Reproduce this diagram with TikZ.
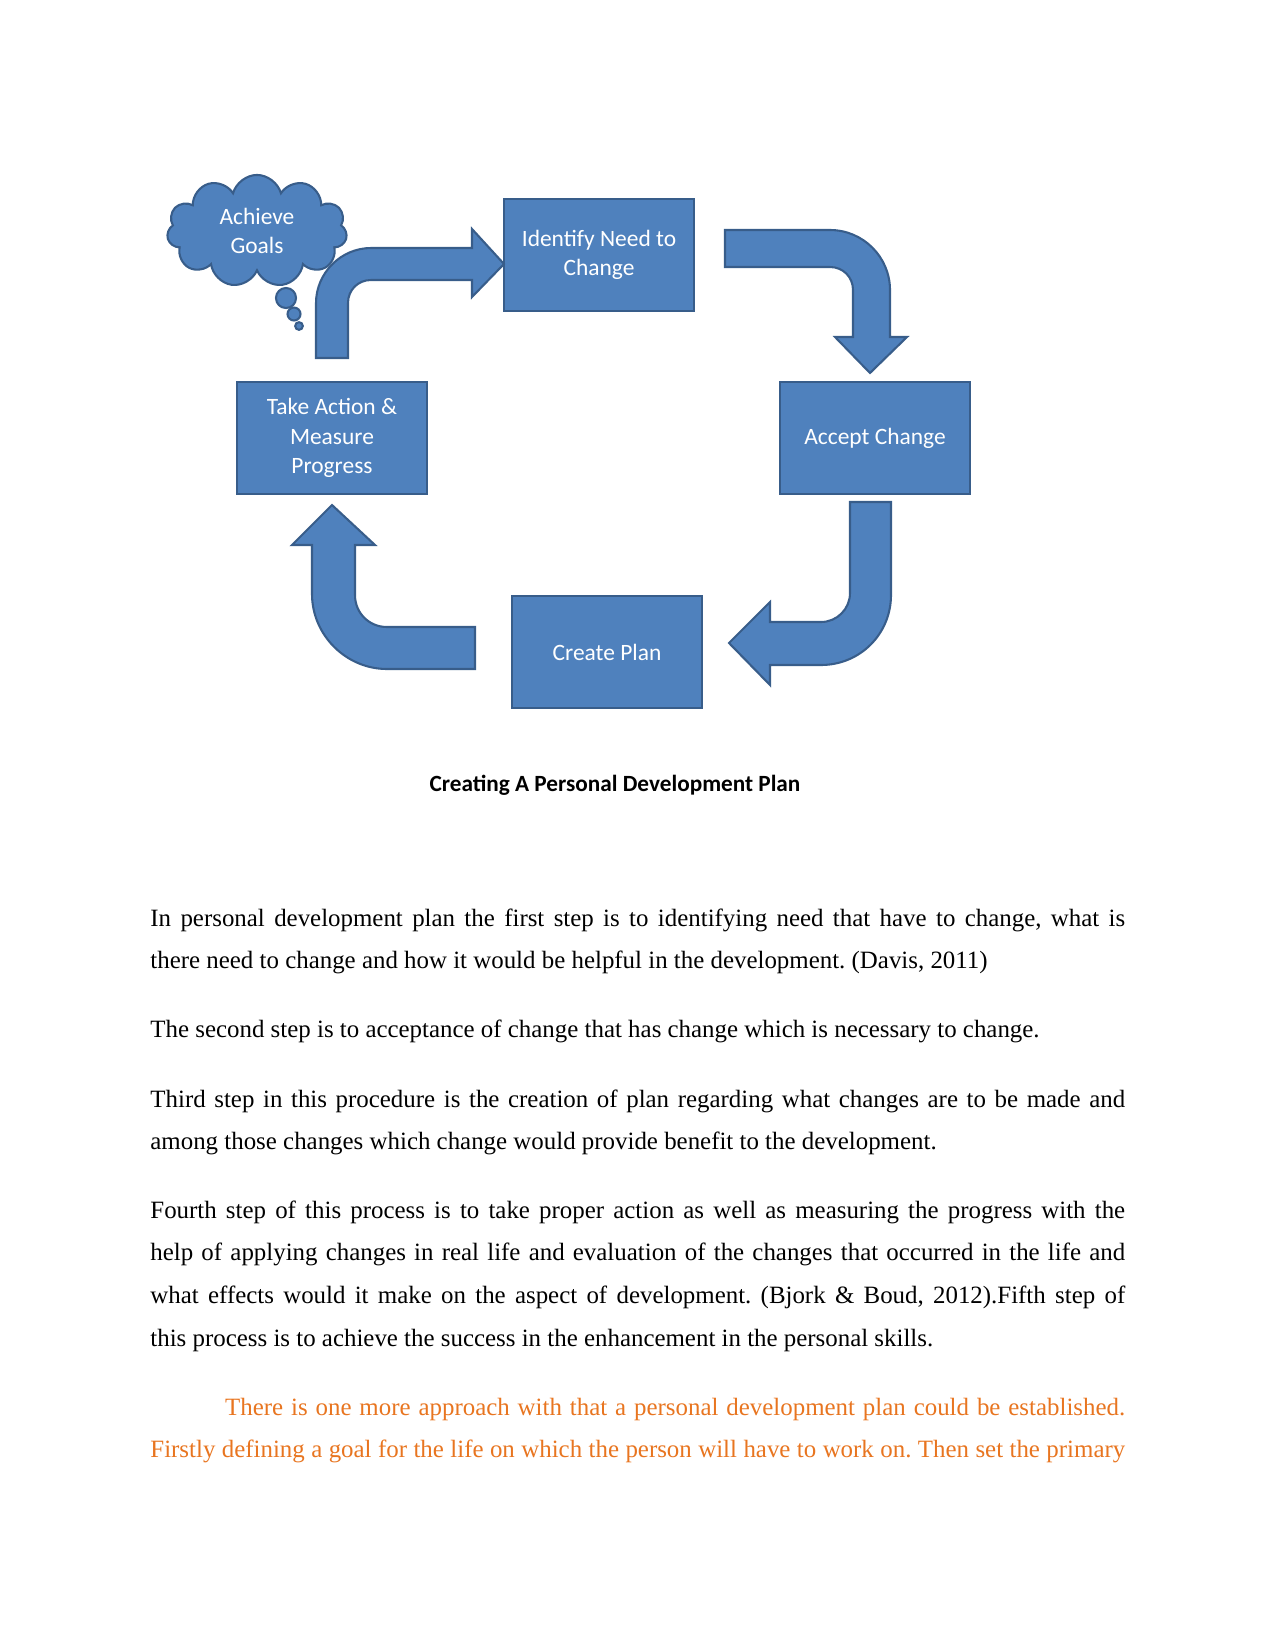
\documentclass[tikz,border=0pt]{standalone}
\usepackage{fontspec}
\setmainfont{Liberation Serif}
\newfontfamily\boxfont{Carlito}
\usepackage{xcolor}
\usepackage{tikz}
\usetikzlibrary{positioning,shapes.symbols}
\definecolor{stepblue}{RGB}{79,129,189}
\definecolor{stepedge}{RGB}{56,93,138}
\definecolor{noteorange}{RGB}{232,117,32}
\frenchspacing
\tikzset{
  stepbox/.style={draw=stepedge, line width=1pt, fill=stepblue, text=white,
    minimum width=3.22cm, minimum height=1.9cm, align=center,
    font=\boxfont\fontsize{11.3}{14.2}\selectfont},
  bentarrow/.style={draw=stepedge, line width=1pt, fill=stepblue},
  bubble/.style={circle, draw=stepedge, line width=1pt, fill=stepblue, inner sep=0pt},
  para/.style={anchor=base west, inner sep=0pt, text width=16.51cm, align=justify,
    font=\fontsize{12}{20.64}\selectfont}
}

\begin{document}
\begin{tikzpicture}[x=0.016933cm, y=-0.016933cm]
  \useasboundingbox (0,0) rectangle (1275,1650);

  \node[stepbox] (identify) at (599,255) {Identify Need to\\Change};
  \node[stepbox] (accept) at (875,438) {Accept Change};
  \node[stepbox] (plan) at (607,652) {Create Plan};
  \node[stepbox] (action) at (332,438) {Take Action \&\\Measure\\Progress};

  \node[cloud, cloud puffs=11, aspect=1.7, draw=stepedge, line width=1pt,
        fill=stepblue, text=white, minimum width=3.05cm, minimum height=1.85cm,
        align=center, font=\boxfont\fontsize{11.3}{14.2}\selectfont] (goals) at (257,231) {Achieve\\Goals};
  \node[bubble, minimum size=0.34cm] (bubbleA) at (286,298) {};
  \node[bubble, minimum size=0.22cm] (bubbleB) at (294,314) {};
  \node[bubble, minimum size=0.13cm] (bubbleC) at (299,326) {};

  \draw[bentarrow] (316,358) -- (316,303) .. controls (316,273) and (341,248) .. (371,248)
    -- (472,248) -- (472,229) -- (504,264) -- (472,297) -- (472,280) -- (371,280)
    .. controls (358,280) and (348,290) .. (348,303) -- (348,358) -- cycle;
  \draw[bentarrow] (725,230) -- (830,230) .. controls (863,230) and (890,257) .. (890,290)
    -- (890,337) -- (907,337) -- (870,373) -- (835,337) -- (853,337) -- (853,290)
    .. controls (853,277) and (843,267) .. (830,267) -- (725,267) -- cycle;
  \draw[bentarrow] (850,502) -- (891,502) -- (891,595) .. controls (891,634) and (860,665) .. (821,665)
    -- (770,665) -- (770,685) -- (729,643) -- (770,602) -- (770,622) -- (821,622)
    .. controls (837,622) and (850,609) .. (850,593) -- cycle;
  \draw[bentarrow] (475,627) -- (475,669) -- (387,669) .. controls (346,669) and (312,635) .. (312,594)
    -- (312,545) -- (292,545) -- (332,505) -- (375,545) -- (355,545) -- (355,595)
    .. controls (355,613) and (369,627) .. (387,627) -- cycle;

  \node[anchor=base, font=\boxfont\bfseries\fontsize{11.2}{13}\selectfont] (caption) at (615,791)
    {Creating A Personal Development Plan};

  \node[para] (first) at (150,926) {In personal development plan the first step is to identifying need that have to change, what is\linebreak
    there need to change and how it would be helpful in the development. (Davis, 2011)};
  \node[para] (second) at (150,1037) {The second step is to acceptance of change that has change which is necessary to change.};
  \node[para] (third) at (150,1107) {Third step in this procedure is the creation of plan regarding what changes are to be made and\linebreak
    among those changes which change would provide benefit to the development.};
  \node[para] (fourth) at (150,1218) {Fourth step of this process is to take proper action as well as measuring the progress with the\linebreak
    help of applying changes in real life and evaluation of the changes that occurred in the life and\linebreak
    what effects would it make on the aspect of development. (Bjork \& Boud, 2012).Fifth step of\linebreak
    this process is to achieve the success in the enhancement in the personal skills.};
  \node[para, text=noteorange] (approach) at (150,1415) {\hspace*{36pt}There is one more approach with that a personal development plan could be established.\linebreak
    Firstly defining a goal for the life on which the person will have to work on. Then set the primary\parfillskip=0pt\par};
\end{tikzpicture}
\end{document}
